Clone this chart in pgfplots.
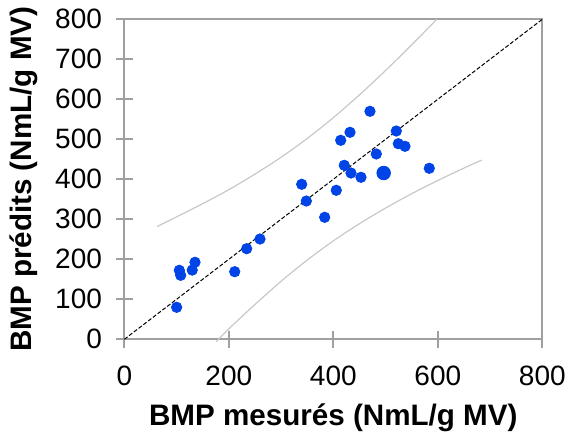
\documentclass[border=0pt]{standalone}
\usepackage{fontspec}
\setmainfont{Liberation Sans}
\usepackage{pgfplots}
\pgfplotsset{compat=1.18}
\definecolor{ptblue}{RGB}{0,68,232}
\definecolor{axgray}{RGB}{160,160,160}
\definecolor{bandgray}{RGB}{200,200,200}
\begin{document}
\begin{tikzpicture}
\begin{axis}[
  name=ax,
  width=209pt, height=160pt, scale only axis,
  xmin=0, xmax=800, ymin=0, ymax=800,
  xtick={0,200,400,600,800},
  ytick={0,100,200,300,400,500,600,700,800},
  axis line style={axgray, line width=1pt},
  tick style={axgray, line width=1pt},
  major tick length=8.3pt, tick align=center,
  xtick pos=bottom, ytick pos=left,
  /pgf/number format/assume math mode=true,
  ticklabel style={font=\fontsize{14}{16}\selectfont},
  xticklabel style={yshift=-5.5pt},
  yticklabel style={xshift=-3.5pt},
  xlabel={BMP mesurés (NmL/g MV)},
  ylabel={BMP prédits (NmL/g MV)},
  label style={font=\fontsize{14.8}{17}\selectfont\bfseries},
  xlabel style={at={(axis description cs:0.5,-0.178)}, anchor=north},
  ylabel style={at={(axis description cs:-0.19,0.5)}, anchor=south},
  clip=false,
]
% upper and lower bands
\addplot[bandgray, line width=0.6pt, smooth] coordinates {
  (63,282) (100,306) (150,339) (200,374) (250,413) (300,455)
  (350,502) (400,554) (450,611) (500,672) (550,736) (598,800)};
\addplot[bandgray, line width=0.6pt, smooth] coordinates {
  (176,-6) (200,26) (250,87) (300,145) (350,198) (400,246)
  (450,289) (500,328) (550,364) (600,397) (650,428) (684,448)};
% 1:1 line
\addplot[black, line width=0.5pt, dash pattern=on 2pt off 1pt] coordinates {(0,0) (800,800)};
% points
\addplot[only marks, mark=*, mark size=2.6pt, color=ptblue] coordinates {
  (100.2,80) (105.3,172.5) (107.9,160) (130,173) (135.3,192.5)
  (211.3,169) (234.2,226.5) (259.7,250.7) (339.5,387.5) (348.4,345.7)
  (383.5,305) (405.7,372.5) (414.2,497.5) (421,435) (432,517.5)
  (433.9,415.7) (453,405) (470.2,570) (482.3,463.3) (520.6,520.7)
  (524.4,489) (537.2,482.5) (583.7,427.5)};
\addplot[only marks, mark=*, mark size=3.4pt, color=ptblue] coordinates {(496.4,415.7)};
\end{axis}
\pgfresetboundingbox
\path ([shift={(-62.15pt,-46.85pt)}]ax.south west) rectangle ([shift={(11.85pt,9.65pt)}]ax.north east);
\end{tikzpicture}
\end{document}
